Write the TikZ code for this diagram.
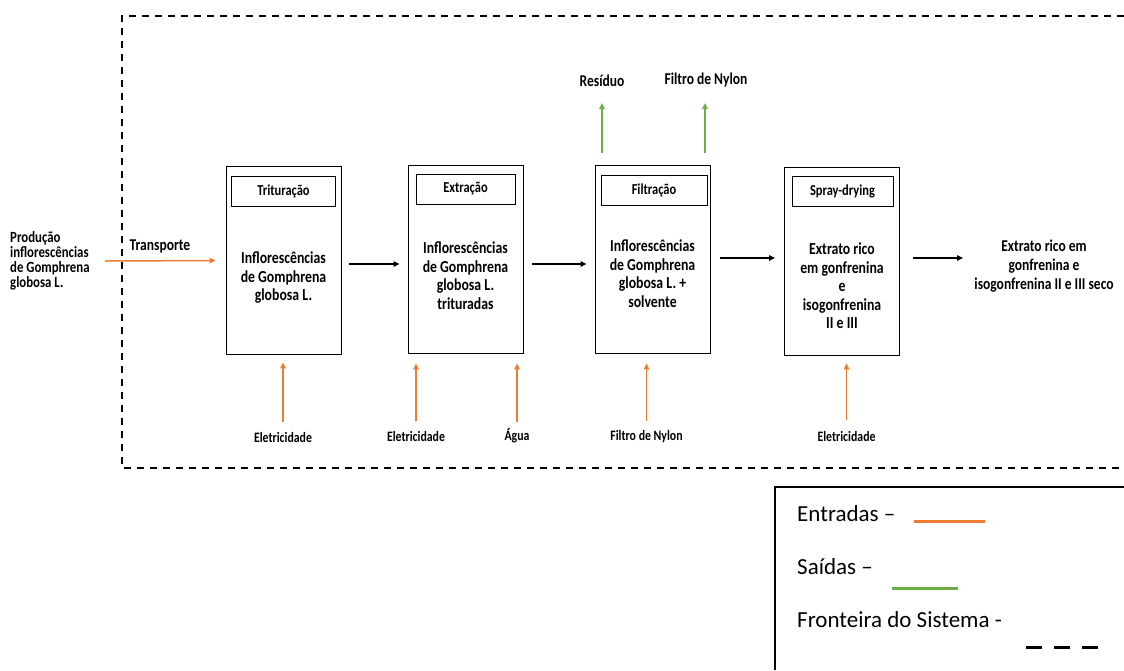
\documentclass[tikz,border=0pt]{standalone}
\usepackage{fontspec}
\setmainfont{Carlito}
\newfontfamily\diagfont[FakeStretch=0.82]{Carlito}
\usetikzlibrary{arrows.meta}
\definecolor{inorange}{HTML}{ED7D31}
\definecolor{outgreen}{HTML}{70AD47}
\begin{document}
\begin{tikzpicture}[x=1pt,y=-1pt,
  proc/.style={draw,line width=0.9pt,minimum width=115pt,minimum height=188pt,inner sep=0pt},
  ptitle/.style={draw,line width=0.9pt,minimum width=104pt,minimum height=30pt,inner sep=0pt,
    font=\diagfont\fontsize{15.2}{16}\selectfont\bfseries},
  ptext/.style={align=center,inner sep=0pt,font=\diagfont\fontsize{16.8}{18.5}\selectfont\bfseries},
  lbl/.style={inner sep=0pt,align=center,font=\diagfont\fontsize{14.4}{15}\selectfont\bfseries},
  biglbl/.style={lbl,font=\diagfont\fontsize{16.5}{19}\selectfont\bfseries},
  tip/.style={-{Triangle[length=6pt,width=5.5pt]}},
  flow/.style={tip,line width=1.4pt,black},
  inflow/.style={tip,line width=1.5pt,inorange},
  outflow/.style={tip,line width=1.5pt,outgreen},
  legtext/.style={anchor=west,inner sep=0pt,font=\fontsize{23}{27}\selectfont}
  ]
\useasboundingbox (0,0) rectangle (1124,670);

% system boundary
\draw[line width=1.6pt,dash pattern=on 7pt off 6pt] (1124,16) -- (122,16) -- (122,468) -- (1124,468);

% process boxes
\node[proc] (b1) at (283.5,260.5) {};
\node[proc] (b2) at (465.5,259.5) {};
\node[proc] (b3) at (652.5,259.5) {};
\node[proc] (b4) at (842,261) {};

\node[ptitle] (t1) at (283.5,191.5) {Trituração};
\node[ptitle,minimum width=99pt] (t2) at (465.5,189) {Extração};
\node[ptitle,minimum width=106pt] (t3) at (654,190) {Filtração};
\node[ptitle,minimum width=101pt] (t4) at (842.5,191) {Spray-drying};

\node[ptext,anchor=north] (c1) at (283.5,252) {Inflorescências\\de Gomphrena\\globosa L.};
\node[ptext,anchor=north] (c2) at (465.5,242) {Inflorescências\\de Gomphrena\\globosa L.\\trituradas};
\node[ptext,anchor=north] (c3) at (652.5,240) {Inflorescências\\de Gomphrena\\globosa L. +\\solvente};
\node[ptext,anchor=north] (c4) at (842,243) {Extrato rico\\em gonfrenina\\e\\isogonfrenina\\II e III};

% source and product
\node[lbl,align=left,anchor=west,font=\diagfont\fontsize{15.6}{15}\selectfont\bfseries] (src) at (10,261) {Produção\\inflorescências\\de Gomphrena\\globosa L.};
\node[biglbl] (tr) at (160,246) {Transporte};
\coordinate (tstart) at (105,261);
\node[biglbl] (prod) at (1044,266) {Extrato rico em\\gonfrenina e\\isogonfrenina II e III seco};
\coordinate (pend) at (963,258);

% main flow
\draw[inflow] (tstart) -- ([xshift=-10pt]b1.west);
\draw[flow] ([shift={(8,3.5)}]b1.east) -- ([shift={(-8,4.5)}]b2.west);
\draw[flow] ([shift={(9,4.5)}]b2.east) -- ([shift={(-8,4.5)}]b3.west);
\draw[flow] ([shift={(10,-1.5)}]b3.east) -- ([shift={(-9,-3)}]b4.west);
\draw[flow] ([shift={(13,-3)}]b4.east) -- (pend);

% inputs
\node[lbl] (e1) at (283,437) {Eletricidade};
\node[lbl] (e2) at (416,436) {Eletricidade};
\node[lbl] (w2) at (517,436) {Água};
\node[lbl] (n3) at (646.5,437) {Filtro de Nylon};
\node[lbl] (e4) at (846.5,436) {Eletricidade};
\draw[inflow,shorten <=15pt,shorten >=7.5pt] (e1.center) -- (e1 |- b1.south);
\draw[inflow,shorten <=15pt,shorten >=9.5pt] (e2.center) -- (e2 |- b2.south);
\draw[inflow,shorten <=14pt,shorten >=9.5pt] (w2.center) -- (w2 |- b2.south);
\draw[inflow,shorten <=16pt,shorten >=9.5pt] (n3.center) -- (n3 |- b3.south);
\draw[inflow,shorten <=16pt,shorten >=8pt] (e4.center) -- (e4 |- b4.south);

% outputs
\node[biglbl] (r3) at (602,81) {Resíduo};
\node[biglbl] (f3) at (706,80) {Filtro de Nylon};
\draw[outflow,shorten <=12.5pt,shorten >=22pt] (r3 |- b3.north) -- (r3.center);
\draw[outflow,shorten <=12.5pt,shorten >=23pt] ([xshift=-1pt]f3 |- b3.north) -- ([xshift=-1pt]f3.center);

% legend
\draw[line width=1.2pt] (775,670) -- (775,487) -- (1124,487);
\node[legtext] (lin) at (797,514) {Entradas –};
\node[legtext] (lout) at (797,567) {Saídas –};
\node[legtext] (lsys) at (797,620) {Fronteira do Sistema -};
\coordinate (kin) at (914,521);
\coordinate (kout) at (892,588);
\coordinate (ksys) at (1026,647);
\draw[inorange,line width=3pt] (kin) -- +(71,0);
\draw[outgreen,line width=3pt] (kout) -- +(66,0);
\draw[line width=3pt,dash pattern=on 16pt off 12pt] (ksys) -- +(72,0);
\end{tikzpicture}
\end{document}
